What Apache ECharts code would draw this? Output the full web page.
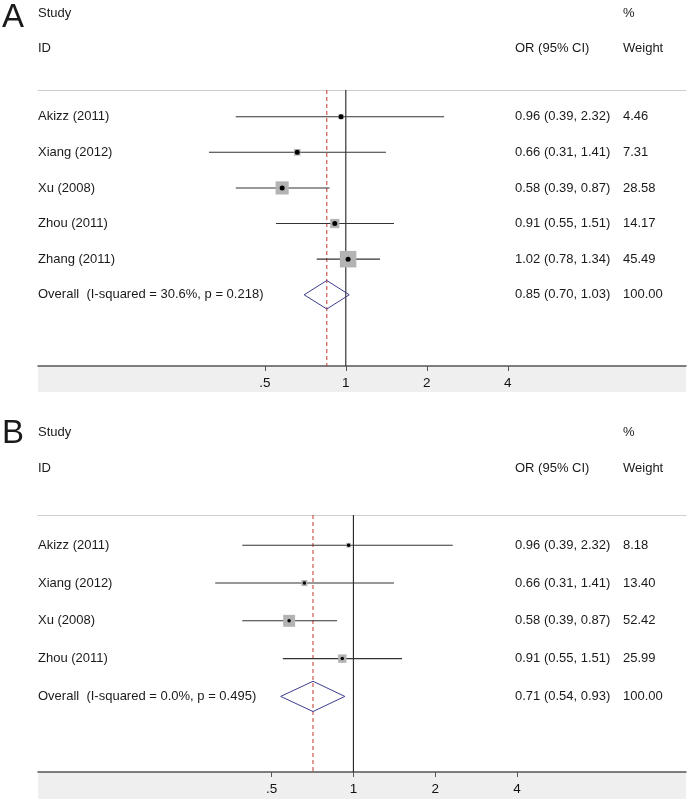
<!DOCTYPE html>
<html><head><meta charset="utf-8">
<script src="https://cdn.jsdelivr.net/npm/echarts@6/dist/echarts.min.js"></script>
<style>html,body{margin:0;padding:0;background:#fff}#c{width:689px;height:802px}</style>
</head><body><div id="c"></div>
<script>
// ---- Data ----
const studiesA = ['Akizz (2011)', 'Xiang (2012)', 'Xu (2008)', 'Zhou (2011)', 'Zhang (2011)'];
const orA = [0.96, 0.66, 0.58, 0.91, 1.02];
const loA = [0.39, 0.31, 0.39, 0.55, 0.78];
const hiA = [2.32, 1.41, 0.87, 1.51, 1.34];
const weightA = [4.46, 7.31, 28.58, 14.17, 45.49];
const overallLabelA = 'Overall  (I-squared = 30.6%, p = 0.218)';
const overallA = [0.85, 0.70, 1.03];   // OR, lower, upper

const studiesB = ['Akizz (2011)', 'Xiang (2012)', 'Xu (2008)', 'Zhou (2011)'];
const orB = [0.96, 0.66, 0.58, 0.91];
const loB = [0.39, 0.31, 0.39, 0.55];
const hiB = [2.32, 1.41, 0.87, 1.51];
const weightB = [8.18, 13.40, 52.42, 25.99];
const overallLabelB = 'Overall  (I-squared = 0.0%, p = 0.495)';
const overallB = [0.71, 0.54, 0.93];

const tickValues = [0.5, 1, 2, 4];
const tickLabels = ['.5', '1', '2', '4'];
const overallWeight = '100.00';
const nullValue = 1;

// ---- Helpers ----
const L = Math.log2;
const FONT = '"Liberation Sans", Arial, sans-serif';
const TXT = '#1a1a1a';

const panels = [
  { letter: 'A', studies: studiesA, or: orA, lo: loA, hi: hiA, w: weightA, ovLabel: overallLabelA, ov: overallA,
    top: 90, bottom: 366, ymin: 0.25, ymax: 8, xmin: -3.80, xmax: 4.20, boxScale: 2.45, dot: 5,
    letterY: 18, studyY: 13, idY: 48, bandBottom: 392 },
  { letter: 'B', studies: studiesB, or: orB, lo: loB, hi: hiB, w: weightB, ovLabel: overallLabelB, ov: overallB,
    top: 515, bottom: 772, ymin: 0.2, ymax: 7, xmin: -3.856, xmax: 4.066, boxScale: 1.65, dot: 3.5,
    letterY: 434, studyY: 432, idY: 468, bandBottom: 799 }
];

const grids = [], xAxes = [], yAxes = [], series = [];
panels.forEach((p, i) => {
  grids.push({ left: 38, right: 3, top: p.top, height: p.bottom - p.top, show: false });
  xAxes.push({
    type: 'value', gridIndex: i, position: 'bottom', min: p.xmin, max: p.xmax,
    axisLine: { show: true, onZero: false, lineStyle: { color: '#555', width: 1.5 } },
    axisTick: { show: true, length: 5, lineStyle: { color: '#555' }, customValues: tickValues.map(L) },
    axisLabel: { show: true, customValues: tickValues.map(L), margin: 10, color: '#111', fontSize: 13.5, fontFamily: FONT,
      formatter: v => { const k = tickValues.findIndex(t => Math.abs(L(t) - v) < 1e-6); return k >= 0 ? tickLabels[k] : ''; } },
    splitLine: { show: false }
  });
  xAxes.push({
    type: 'value', gridIndex: i, position: 'top', min: p.xmin, max: p.xmax,
    axisLine: { show: true, onZero: false, lineStyle: { color: '#cfcfcf', width: 1 } },
    axisTick: { show: false }, axisLabel: { show: false }, splitLine: { show: false }
  });
  yAxes.push({ type: 'value', gridIndex: i, inverse: true, min: p.ymin, max: p.ymax, show: false });

  const xb = i * 2;
  const n = p.studies.length;
  // CI whiskers
  series.push({
    type: 'custom', xAxisIndex: xb, yAxisIndex: i, z: 2,
    data: p.studies.map((s, k) => [L(p.lo[k]), L(p.hi[k]), k + 1]),
    encode: { x: [0, 1], y: 2 },
    renderItem: (params, api) => {
      const a = api.coord([api.value(0), api.value(2)]);
      const b = api.coord([api.value(1), api.value(2)]);
      return { type: 'line', shape: { x1: a[0], y1: a[1], x2: b[0], y2: b[1] }, style: { stroke: '#333', lineWidth: 1.1 } };
    },
    silent: true
  });
  // vertical reference lines: null (solid) and overall (dashed red)
  series.push({
    type: 'custom', xAxisIndex: xb, yAxisIndex: i, z: 1, clip: false,
    data: [[L(nullValue), 0], [L(p.ov[0]), 1]],
    encode: { x: 0 },
    renderItem: (params, api) => {
      const x = api.value(0);
      const a = api.coord([x, p.ymin]);
      const b = api.coord([x, p.ymax]);
      const dashed = api.value(1) === 1;
      return { type: 'line', shape: { x1: a[0], y1: a[1], x2: b[0], y2: b[1] },
        style: dashed ? { stroke: '#c0392b', lineWidth: 1, lineDash: [4, 3] } : { stroke: '#222', lineWidth: 1.1 } };
    },
    silent: true
  });
  // weight boxes
  series.push({
    type: 'scatter', xAxisIndex: xb, yAxisIndex: i, z: 3, symbol: 'rect',
    data: p.studies.map((s, k) => ({ value: [L(p.or[k]), k + 1], symbolSize: p.boxScale * Math.sqrt(p.w[k]) })),
    itemStyle: { color: '#b3b3b3', opacity: 1 }, silent: true
  });
  // point estimates
  series.push({
    type: 'scatter', xAxisIndex: xb, yAxisIndex: i, z: 4, symbol: 'circle', symbolSize: p.dot,
    data: p.studies.map((s, k) => [L(p.or[k]), k + 1]),
    itemStyle: { color: '#000', opacity: 1 }, silent: true
  });
  // overall diamond
  series.push({
    type: 'custom', xAxisIndex: xb, yAxisIndex: i, z: 3,
    data: [[L(p.ov[0]), L(p.ov[1]), L(p.ov[2]), n + 1]],
    encode: { x: [1, 2], y: 3 },
    renderItem: (params, api) => {
      const y = api.value(3);
      const c = api.coord([api.value(0), y]);
      const l = api.coord([api.value(1), y]);
      const r = api.coord([api.value(2), y]);
      const t = api.coord([api.value(0), y - 0.4]);
      const b = api.coord([api.value(0), y + 0.4]);
      return { type: 'polygon', shape: { points: [[l[0], c[1]], [c[0], t[1]], [r[0], c[1]], [c[0], b[1]]] },
        style: { fill: 'none', stroke: '#3c3c8e', lineWidth: 1 } };
    },
    silent: true
  });
});

const chart = echarts.init(document.getElementById('c'), null, { renderer: 'canvas' });
chart.setOption({ animation: false, grid: grids, xAxis: xAxes, yAxis: yAxes, series: series });

const graphics = [];
const tstyle = (x, y, text, size) => ({ type: 'text', x: x, y: y, silent: true,
  style: { text: text, fill: TXT, font: (size || 13) + 'px ' + FONT, textAlign: 'left', textVerticalAlign: 'middle' } });
const COL_OR = 515, COL_W = 623, COL_S = 38;
panels.forEach((p, i) => {
  graphics.push({ type: 'rect', z: -10, silent: true, shape: { x: 38, y: p.bottom, width: 648, height: p.bandBottom - p.bottom },
    style: { fill: '#efefef' } });
  graphics.push(tstyle(2, p.letterY, p.letter, 33));
  graphics.push(tstyle(COL_S, p.studyY, 'Study'));
  graphics.push(tstyle(COL_S, p.idY, 'ID'));
  graphics.push(tstyle(COL_W, p.studyY, '%'));
  graphics.push(tstyle(COL_OR, p.idY, 'OR (95% CI)'));
  graphics.push(tstyle(COL_W, p.idY, 'Weight'));
  const rowY = r => chart.convertToPixel({ gridIndex: i }, [0, r])[1];
  p.studies.forEach((s, k) => {
    const y = rowY(k + 1);
    graphics.push(tstyle(COL_S, y, s));
    graphics.push(tstyle(COL_OR, y, p.or[k].toFixed(2) + ' (' + p.lo[k].toFixed(2) + ', ' + p.hi[k].toFixed(2) + ')'));
    graphics.push(tstyle(COL_W, y, p.w[k].toFixed(2)));
  });
  const yo = rowY(p.studies.length + 1);
  graphics.push(tstyle(COL_S, yo, p.ovLabel));
  graphics.push(tstyle(COL_OR, yo, p.ov[0].toFixed(2) + ' (' + p.ov[1].toFixed(2) + ', ' + p.ov[2].toFixed(2) + ')'));
  graphics.push(tstyle(COL_W, yo, overallWeight));
});
chart.setOption({ graphic: graphics });
</script></body></html>
